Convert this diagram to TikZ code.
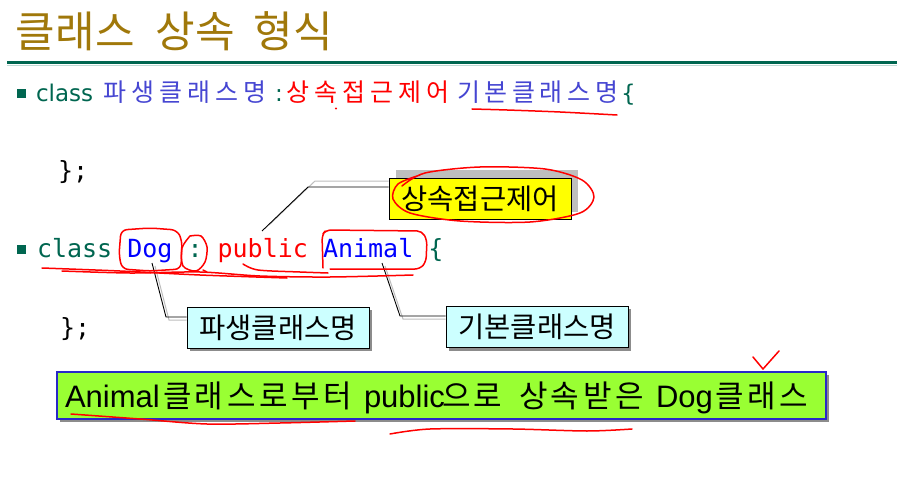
\documentclass[tikz,border=0pt]{standalone}
\usepackage{fontspec}
\setmainfont{DejaVu Sans}
\newfontfamily\kr{Noto Sans CJK KR}
\newfontfamily\monof{DejaVu Sans Mono}
\newfontfamily\arialf{Liberation Sans}
\makeatletter
\newcommand\spaced[2]{\def\sp@k{#1}\@tfor\sp@c:=#2\do{\sp@c\kern\sp@k}}
\makeatother
\definecolor{olive}{RGB}{160,120,10}
\definecolor{dgreen}{RGB}{0,102,80}
\definecolor{pblue}{RGB}{70,70,210}
\definecolor{yel}{RGB}{255,255,0}
\definecolor{cyanbox}{RGB}{204,255,255}
\definecolor{lime}{RGB}{153,255,51}
\definecolor{shgray}{RGB}{190,190,190}
\definecolor{shdark}{RGB}{140,140,140}
\definecolor{bborder}{RGB}{40,40,200}
\tikzset{
  txt/.style={inner sep=0pt, outer sep=0pt, anchor=base west},
  bullet/.style={fill=dgreen},
  callout/.style={draw=black, line width=1pt, inner sep=0pt, minimum width=182pt, minimum height=41pt, font=\kr\fontsize{28.5}{28.5}\selectfont},
  conn/.style={draw=black, line width=0.9pt},
  connsh/.style={draw=shgray, line width=1pt},
  pen/.style={draw=red, line width=1.5pt, line cap=round, line join=round},
  l1k/.style={txt, font=\kr\fontsize{25}{25}\selectfont},
  l1l/.style={txt, font=\fontsize{23}{23}\selectfont},
  l2/.style={txt, font=\monof\fontsize{25}{25}\selectfont},
  bk/.style={txt, font=\kr\fontsize{31}{31}\selectfont},
  bl/.style={txt, font=\arialf\fontsize{31}{31}\selectfont},
}
\begin{document}
\begin{tikzpicture}[x=1pt,y=-1pt]
\useasboundingbox (0,0) rectangle (897,492);
\fill[white] (0,0) rectangle (897,492);

% title
\node[txt, text=olive, font=\kr\fontsize{43}{43}\selectfont] (title) at (16,48) {클래스\hspace{21pt}상속\hspace{19pt}형식};
\draw[dgreen, line width=3pt] (7,63) -- (897,63);
\draw[dgreen!25, line width=1pt] (7,65.5) -- (897,65.5);

% line 1
\fill[bullet] (17,89) rectangle (26,98);
\node[l1l, text=dgreen] (c1) at (36,102) {class};
\node[l1k, text=pblue] (d1) at (103,102) {\spaced{5pt}{파생클래스명}};
\node[l1l, text=dgreen] (col1) at (275,102) {:};
\node[l1k, text=red] (a1) at (286,102) {\spaced{5pt}{상속접근제어}};
\node[l1k, text=pblue] (b1) at (457,102) {\spaced{4.6pt}{기본클래스명}};
\node[l1l, text=dgreen] (br1) at (621,102) {\{};

\node[l2] (end1) at (58,179) {\};};

% line 2
\fill[bullet] (17,245) rectangle (26,254);
\node[l2, text=dgreen] (c2) at (37,257) {class};
\node[l2, text=blue] (dog) at (127.3,257) {Dog};
\node[l2, text=dgreen] (col2) at (187.5,257) {:};
\node[l2, text=red] (pub) at (217.6,257) {public};
\node[l2, text=blue] (ani) at (323,257) {Animal};
\node[l2, text=dgreen] (br2) at (428.3,257) {\{};

\node[l2] (end2) at (60,336) {\};};

% callout: access specifier
\fill[shgray] (396,170) rectangle (578,212);
\node[callout, fill=yel] (acc) at (480,198.5) {상속접근제어};
\coordinate (pubpt) at (262,231);
\coordinate (pubk) at (308,187);
\draw[connsh] ([shift={(7,-6)}]pubpt) -- ([shift={(7,-6)}]pubk) -- ([shift={(0,-6)}]pubk -| acc.west);
\draw[conn] (pubpt) -- (pubk) -- (pubk -| acc.west);

% callout: derived class
\fill[shdark] (190,310) rectangle (372,351);
\node[callout, fill=cyanbox] (dbox) at (278,327.5) {파생클래스명};
\coordinate (dogpt) at (152,263);
\coordinate (dogk) at (166,317);
\draw[connsh] ([shift={(3,3)}]dogpt) -- ([shift={(3,3)}]dogk) -- ([shift={(0,3)}]dogk -| dbox.west);
\draw[conn] (dogpt) -- (dogk) -- (dogk -| dbox.west);

% callout: base class
\fill[shdark] (449,309) rectangle (631,351);
\node[callout, fill=cyanbox] (bbox) at (537,327) {기본클래스명};
\coordinate (anipt) at (382,263);
\coordinate (anik) at (400,316);
\draw[connsh] ([shift={(3,3)}]anipt) -- ([shift={(3,3)}]anik) -- ([shift={(0,3)}]anik -| bbox.west);
\draw[conn] (anipt) -- (anik) -- (anik -| bbox.west);

% bottom box
\fill[shdark] (60,375) rectangle (829,422);
\node[draw=bborder, fill=lime, line width=1.2pt, minimum width=769pt, minimum height=47pt, inner sep=0pt] (sum) at (441.5,395.5) {};
\node[bl] (s1) at (65,407) {Animal};
\node[bk] (s2) at (163,407) {\spaced{3.5pt}{클래스로부터}};
\node[bl] (s3) at (364,407) {public};
\node[bk] (s4) at (442,407) {\spaced{3.5pt}{으로}};
\node[bk] (s5) at (519,407) {\spaced{3.5pt}{상속받은}};
\node[bl] (s6) at (656,407) {Dog};
\node[bk] (s7) at (715,407) {\spaced{3.5pt}{클래스}};

% red hand-drawn marks
\fill[red] (336,108.5) circle (1.1);
\draw[pen] plot[smooth] coordinates {(472,109) (507,110) (560,112) (617,115)};
\draw[pen] plot[smooth] coordinates {(402,186) (425,173) (480,167) (545,169) (582,180) (594,197) (580,213) (530,222) (460,221) (410,213) (393,199) (398,184) (420,175)};
\draw[pen, rounded corners=6pt] (121,230) -- (150,228) -- (177,230) -- (182,240) -- (181,269) -- (150,271) -- (122,269) -- (119,255) -- cycle;
\draw[pen] plot[smooth] coordinates {(190,236) (182,248) (183,266) (196,271) (205,262) (207,247) (201,236) (190,236)};
\draw[pen] plot[smooth] coordinates {(203,270) (207,272)};
\draw[pen, rounded corners=5pt] (323,268) -- (322,235) -- (326,230) -- (422,231) -- (427,240) -- (426,262) -- (420,269) -- (330,269);
\draw[pen] plot[smooth] coordinates {(42,268) (120,271) (200,275) (287,278)};
\draw[pen] plot[smooth] coordinates {(62,271) (130,273) (200,272) (260,276) (330,277) (413,275)};
\draw[pen] plot[smooth] coordinates {(243,264) (258,270) (300,272) (328,273)};
\draw[pen] (753,357) -- (763,369) -- (779,351);
\draw[pen] plot[smooth] coordinates {(71,414) (140,419) (207,424) (280,423) (355,421)};
\draw[pen] plot[smooth] coordinates {(390,434) (430,429) (513,429) (587,431) (632,429)};
\end{tikzpicture}
\end{document}
